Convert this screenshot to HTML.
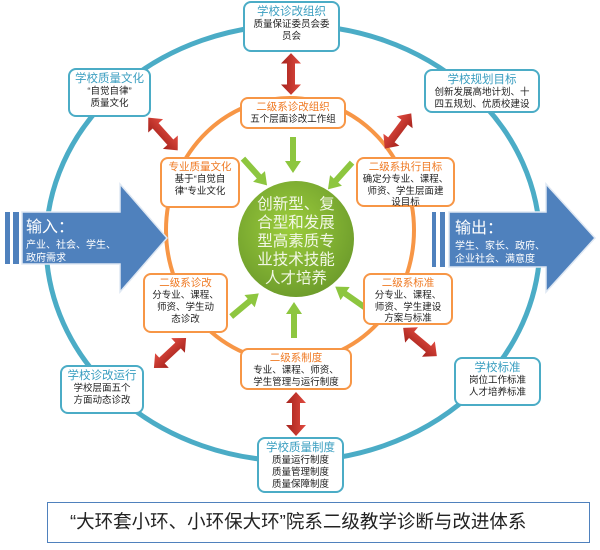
<!DOCTYPE html>
<html><head><meta charset="utf-8"><style>
body{margin:0;width:600px;height:550px;background:#fff;overflow:hidden;font-family:"Liberation Sans","Noto Sans CJK SC",sans-serif}
svg{position:absolute;left:0;top:0}
.b{position:absolute;background:#fff;border:2px solid #4bacc6;border-radius:8px;text-align:center;font-size:9.5px;line-height:12px;color:#222;box-sizing:border-box;padding-top:2px}
.o{border-color:#f79646}
.b .t{font-size:11.5px;line-height:14px;color:#3a9ec0}
.o .t{color:#ef7a24;font-size:10.5px;line-height:13px}
</style></head><body>
<svg width="600" height="550">
<defs>
<radialGradient id="g" cx="45%" cy="40%" r="60%"><stop offset="0" stop-color="#9ccd3c"/><stop offset="1" stop-color="#6f9e2c"/></radialGradient>
<linearGradient id="r" x1="0" y1="0" x2="0" y2="1"><stop offset="0" stop-color="#e04a3f"/><stop offset="1" stop-color="#a5221c"/></linearGradient>
<g id="da"><polygon points="-22,0 -11,-10 -11,-4 11,-4 11,-10 22,0 11,10 11,4 -11,4 -11,10" fill="url(#r)"/></g>
<g id="ga"><polygon points="-18,-3 6,-3 6,-8 18,0 6,8 6,3 -18,3" fill="#8dc63f"/></g>
</defs>
<ellipse cx="293" cy="243" rx="247" ry="218" fill="none" stroke="#4bacc6" stroke-width="5"/>
<ellipse cx="290" cy="230" rx="124" ry="132" fill="none" stroke="#f79646" stroke-width="4"/>
<circle cx="296" cy="239" r="58" fill="url(#g)"/>
<text fill="#f2f7e6" font-size="15.5" text-anchor="middle" font-family="Liberation Sans,Noto Sans CJK SC,sans-serif">
<tspan x="296" y="209">创新型、复</tspan><tspan x="296" y="227.5">合型和发展</tspan><tspan x="296" y="246">型高素质专</tspan><tspan x="296" y="264.5">业技术技能</tspan><tspan x="296" y="283">人才培养</tspan></text>
<rect x="5" y="212" width="5" height="52" fill="#4f81bd"/><rect x="13" y="212" width="6" height="52" fill="#4f81bd"/>
<polygon points="22,212 120,212 120,184 167,238 120,292 120,264 22,264" fill="#4f81bd" stroke="#dfe8f3" stroke-width="1.5"/>
<text fill="#fff" font-size="16" x="26" y="232">输入：</text>
<text fill="#fff" font-size="10" x="26" y="248">产业、社会、学生、</text>
<text fill="#fff" font-size="10" x="26" y="261">政府需求</text>
<rect x="432" y="212" width="4" height="55" fill="#4f81bd"/><rect x="440" y="212" width="5" height="55" fill="#4f81bd"/>
<polygon points="449,212 546,212 546,184 595,238 546,292 546,267 449,267" fill="#4f81bd" stroke="#dfe8f3" stroke-width="1.5"/>
<text fill="#fff" font-size="16" x="455" y="233">输出：</text>
<text fill="#fff" font-size="10" x="455" y="249">学生、家长、政府、</text>
<text fill="#fff" font-size="10" x="455" y="262">企业社会、满意度</text>
<use href="#da" transform="translate(291,74) rotate(90) scale(0.95,1)"/>
<use href="#da" transform="translate(163,134) rotate(48)"/>
<use href="#da" transform="translate(398,131) rotate(-53)"/>
<use href="#da" transform="translate(170,353) rotate(-43)"/>
<use href="#da" transform="translate(420,342) rotate(40)"/>
<use href="#da" transform="translate(296,414) rotate(90)"/>
<use href="#ga" transform="translate(293,155) rotate(90)"/>
<use href="#ga" transform="translate(255,172) rotate(48)"/>
<use href="#ga" transform="translate(340,176) rotate(132)"/>
<use href="#ga" transform="translate(245,305) rotate(-40)"/>
<use href="#ga" transform="translate(294,320) rotate(-90)"/>
<use href="#ga" transform="translate(350,297) rotate(-145)"/>
</svg>
<div class="b" style="left:243px;top:1px;width:97px;height:51px"><div class="t">学校诊改组织</div>质量保证委员会委<br>员会</div>
<div class="b" style="left:68px;top:68px;width:83px;height:49px"><div class="t">学校质量文化</div>“自觉自律”<br>质量文化</div>
<div class="b" style="left:424px;top:69px;width:116px;height:44px"><div class="t">学校规划目标</div>创新发展高地计划、十<br>四五规划、优质校建设</div>
<div class="b" style="left:60px;top:365px;width:84px;height:49px"><div class="t">学校诊改运行</div>学校层面五个<br>方面动态诊改</div>
<div class="b" style="left:454px;top:357px;width:87px;height:49px"><div class="t">学校标准</div>岗位工作标准<br>人才培养标准</div>
<div class="b" style="left:257px;top:437px;width:87px;height:56px"><div class="t">学校质量制度</div>质量运行制度<br>质量管理制度<br>质量保障制度</div>
<div class="b o" style="left:240px;top:97px;width:106px;height:32px"><div class="t">二级系诊改组织</div>五个层面诊改工作组</div>
<div class="b o" style="left:160px;top:157px;width:80px;height:51px"><div class="t">专业质量文化</div>基于“自觉自<br>律”专业文化</div>
<div class="b o" style="left:356px;top:157px;width:99px;height:50px;line-height:11.5px"><div class="t">二级系执行目标</div>确定分专业、课程、<br>师资、学生层面建<br>设目标</div>
<div class="b o" style="left:143px;top:273px;width:85px;height:60px"><div class="t">二级系诊改</div>分专业、课程、<br>师资、学生动<br>态诊改</div>
<div class="b o" style="left:363px;top:273px;width:90px;height:52px;line-height:11.5px"><div class="t">二级系标准</div>分专业、课程、<br>师资、学生建设<br>方案与标准</div>
<div class="b o" style="left:240px;top:348px;width:112px;height:42px"><div class="t">二级系制度</div>专业、课程、师资、<br>学生管理与运行制度</div>
<div style="position:absolute;left:47px;top:502px;width:543px;height:41px;border:1.5px solid #4f81bd;box-sizing:border-box;font-size:18.5px;line-height:38px;color:#222;padding-left:22px;white-space:nowrap">“大环套小环、小环保大环”院系二级教学诊断与改进体系</div>
</body></html>
